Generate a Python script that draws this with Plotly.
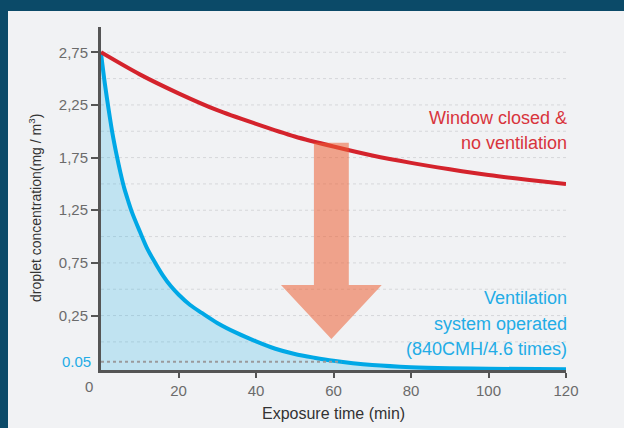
import plotly.graph_objects as go

# ---- data (y in the chart's drawn scale) ----
time_red = [0, 10, 20, 30, 40, 50, 60, 70, 80, 90, 100, 110, 120]
conc_red = [2.75, 2.54, 2.36, 2.20, 2.07, 1.95, 1.855, 1.77, 1.70, 1.64, 1.585, 1.54, 1.50]

time_blue = [0, 1, 2, 3, 4, 5, 6, 7, 8, 10, 12, 14, 16, 18, 20, 23, 26, 30, 35, 40, 45,
             50, 55, 60, 65, 70, 80, 90, 100, 120]
conc_blue = [2.74, 2.45, 2.20, 1.97, 1.78, 1.61, 1.46, 1.34, 1.23, 1.05, 0.88, 0.75, 0.63,
             0.53, 0.45, 0.35, 0.275, 0.18, 0.085, 0.005, -0.065, -0.115, -0.15, -0.18,
             -0.203, -0.22, -0.24, -0.25, -0.255, -0.26]

y_tick_vals = [0.25, 0.75, 1.25, 1.75, 2.25, 2.75]
y_tick_text = ["0,25", "0,75", "1,25", "1,75", "2,25", "2,75"]
x_tick_vals = [20, 40, 60, 80, 100, 120]
x_tick_text = ["20", "40", "60", "80", "100", "120"]
grid_levels = [0, 0.25, 0.5, 0.75, 1.0, 1.25, 1.5, 1.75, 2.0, 2.25, 2.5, 2.75]

red_label_lines = ["Window closed &", "no ventilation"]
blue_label_lines = ["Ventilation", "system operated", "(840CMH/4.6 times)"]

y_bottom = -0.267
y_top = 2.99
threshold_pos = -0.188      # drawn position of the "0.05" reference line
threshold_end = 62          # where the dotted line stops (min)

# arrow outline (data units)
arrow_cx = 59.45
arrow_shaft_half = 4.5
arrow_head_half = 13.0
arrow_top = 1.89
arrow_neck = 0.54
arrow_tip = 0.027

RED = "#d4232c"
BLUE = "#00a8e6"
TXT_BLUE = "#23ace6"
BG = "#f1f2f4"
NAVY = "#0b4a68"
AX = "#555555"
base_font = "Liberation Sans, Arial, sans-serif"

W, H = 624, 428
PL, PR, PT, PB = 101, 566, 27, 370


def px_x(px):
    return (px - PL) / (PR - PL)


def px_y(py):
    return (PB - py) / (PB - PT)


fig = go.Figure()

# baseline for the fill under the blue curve
fig.add_trace(go.Scatter(x=[time_blue[0], time_blue[-1]], y=[y_bottom, y_bottom],
                         mode="lines", line=dict(width=0), hoverinfo="skip", showlegend=False))
fig.add_trace(go.Scatter(x=time_blue, y=conc_blue, mode="lines", fill="tonexty",
                         fillcolor="rgba(0,169,230,0.2)",
                         line=dict(color=BLUE, width=4, shape="spline", smoothing=0.8),
                         showlegend=False))
fig.add_trace(go.Scatter(x=time_red, y=conc_red, mode="lines",
                         line=dict(color=RED, width=4, shape="spline", smoothing=0.8),
                         showlegend=False))
# dotted 0.05 line
fig.add_trace(go.Scatter(x=[0, threshold_end], y=[threshold_pos, threshold_pos], mode="lines",
                         line=dict(color="#9a9a9c", width=2, dash="dot"), showlegend=False))

shapes = []
# navy frame (top and left)
shapes.append(dict(type="rect", xref="paper", yref="paper", x0=px_x(0), x1=px_x(W),
                   y0=px_y(11), y1=px_y(0), fillcolor=NAVY, line=dict(width=0), layer="below"))
shapes.append(dict(type="rect", xref="paper", yref="paper", x0=px_x(0), x1=px_x(8),
                   y0=px_y(H), y1=px_y(11), fillcolor=NAVY, line=dict(width=0), layer="below"))
for lev in grid_levels:
    shapes.append(dict(type="line", xref="paper", yref="y", x0=0, x1=px_x(568), y0=lev, y1=lev,
                       line=dict(color="#d6d7da", width=1, dash="dot"), layer="below"))
# arrow
c = arrow_cx
path = (f"M {c-arrow_shaft_half} {arrow_top} L {c+arrow_shaft_half} {arrow_top} "
        f"L {c+arrow_shaft_half} {arrow_neck} L {c+arrow_head_half} {arrow_neck} "
        f"L {c} {arrow_tip} L {c-arrow_head_half} {arrow_neck} "
        f"L {c-arrow_shaft_half} {arrow_neck} Z")
shapes.append(dict(type="path", xref="x", yref="y", path=path,
                   fillcolor="rgba(236,96,52,0.55)", line=dict(width=0), layer="above"))

annotations = []
for txt, cy in zip(red_label_lines, [117.5, 143.0]):
    annotations.append(dict(text=txt, x=px_x(569), y=px_y(cy), xref="paper", yref="paper",
                            xanchor="right", yanchor="middle", showarrow=False,
                            font=dict(family=base_font, size=18, color="#d8343c")))
for txt, cy in zip(blue_label_lines, [298.0, 323.5, 349.0]):
    annotations.append(dict(text=txt, x=px_x(569), y=px_y(cy), xref="paper", yref="paper",
                            xanchor="right", yanchor="middle", showarrow=False,
                            font=dict(family=base_font, size=18, color=TXT_BLUE)))
annotations += [
    dict(text="0.05", x=px_x(93), y=threshold_pos, xref="paper", yref="y", showarrow=False,
         xanchor="right", yanchor="middle",
         font=dict(family=base_font, size=15, color=TXT_BLUE)),
    dict(text="0", x=px_x(89), y=px_y(387), xref="paper", yref="paper", showarrow=False,
         xanchor="center", yanchor="middle",
         font=dict(family=base_font, size=15, color="#6b6b6b")),
    dict(text="Exposure time (min)", x=0.5, y=px_y(413), xref="paper", yref="paper",
         showarrow=False, xanchor="center", yanchor="middle",
         font=dict(family=base_font, size=16, color="#333333")),
    dict(text="droplet concentration(mg / m<sup>3</sup>)", x=px_x(35), y=px_y(208),
         xref="paper", yref="paper", showarrow=False, textangle=-90,
         xanchor="center", yanchor="middle",
         font=dict(family=base_font, size=14, color="#333333")),
]

fig.update_layout(
    width=W, height=H, autosize=False,
    margin=dict(l=PL, r=W - PR, t=PT, b=H - PB),
    paper_bgcolor=BG, plot_bgcolor=BG,
    shapes=shapes, annotations=annotations,
    xaxis=dict(range=[0, 120], tickvals=x_tick_vals, ticktext=x_tick_text,
               showgrid=False, zeroline=False, showline=True, linewidth=3, linecolor=AX,
               ticks="outside", ticklen=5, tickwidth=1.5, tickcolor=AX,
               tickfont=dict(family=base_font, size=15, color="#6b6b6b")),
    yaxis=dict(range=[y_bottom, y_top], tickvals=y_tick_vals, ticktext=y_tick_text,
               showgrid=False, zeroline=False, showline=True, linewidth=3, linecolor=AX,
               ticks="outside", ticklen=7, tickwidth=1.5, tickcolor=AX,
               tickfont=dict(family=base_font, size=15, color="#6b6b6b")),
)

css = ("html,body{margin:0!important;padding:0!important;overflow:hidden!important;"
       "background:%s!important;scrollbar-width:none;}"
       "::-webkit-scrollbar{display:none;width:0;height:0;}" % BG)
fig.write_html("out.html",
               config=dict(displayModeBar=False, responsive=False),
               post_script="var s=document.createElement('style');s.textContent=%r;"
                           "document.head.appendChild(s);" % css)
